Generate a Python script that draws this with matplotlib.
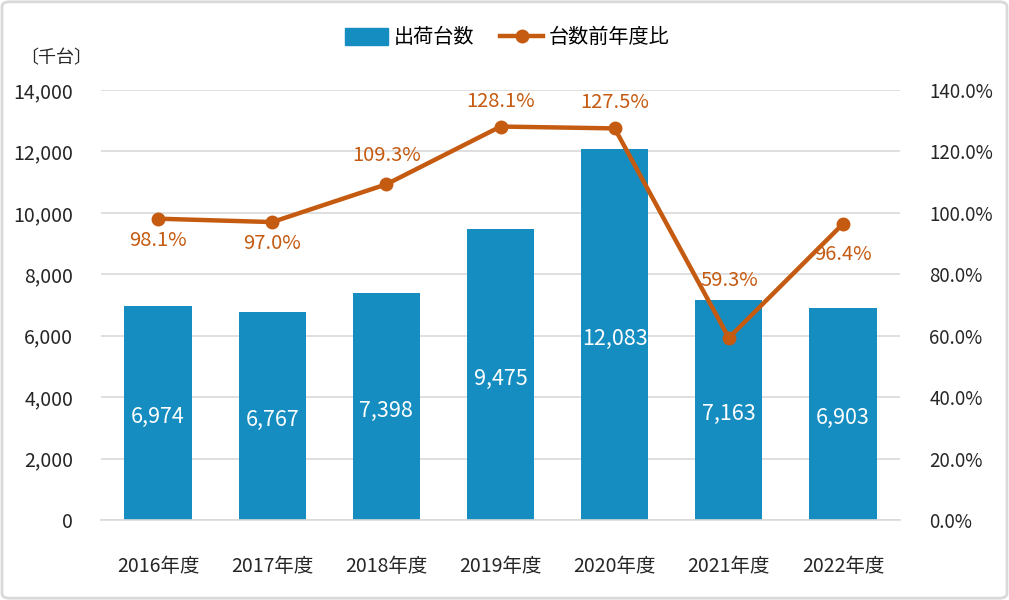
import matplotlib.pyplot as plt
from matplotlib.patches import FancyBboxPatch
from matplotlib.lines import Line2D
from matplotlib.patches import Patch
import numpy as np

plt.rcParams['font.family'] = ['Noto Sans CJK JP', 'DejaVu Sans']

# data
years = ['2016年度', '2017年度', '2018年度', '2019年度', '2020年度', '2021年度', '2022年度']
shipments = [6974, 6767, 7398, 9475, 12083, 7163, 6903]
yoy = [98.1, 97.0, 109.3, 128.1, 127.5, 59.3, 96.4]
# label offset (px) from each point, + = below
label_dy = [22, 21, -29, -25, -26, -57, 31]

bar_color = '#168dc0'
line_color = '#c55a11'
grid_color = '#d9d9d9'
text_color = '#262626'

fig = plt.figure(figsize=(10.09, 6.0), dpi=100)
ax = fig.add_axes([0.1001, 0.1333, 0.7919, 0.7167])
ax2 = ax.twinx()

x = np.arange(len(years))
ax.bar(x, shipments, width=0.59, color=bar_color, zorder=2)
for xi, v in zip(x, shipments):
    ax.annotate(f'{v:,}', (xi, v / 2), xytext=(0, -3), textcoords='offset points',
                ha='center', va='center', color='white', fontsize=15.5)

ax.set_ylim(0, 14000)
ax.set_xlim(-0.5, len(years) - 0.5)
ax.set_yticks(range(0, 14001, 2000))
ax.set_yticklabels([f'{t:,}' for t in range(0, 14001, 2000)])
ax.yaxis.grid(True, color=grid_color, linewidth=1.2, zorder=0)
ax.set_axisbelow(True)
ax.set_xticks(x)
ax.set_xticklabels(years)
for s in ax.spines.values():
    s.set_visible(False)
ax.spines['bottom'].set_visible(True)
ax.spines['bottom'].set_color(grid_color)
ax.spines['bottom'].set_linewidth(1.2)
ax.tick_params(axis='y', length=0, labelsize=14, colors=text_color, pad=20)
ax.tick_params(axis='x', length=0, labelsize=14, colors=text_color, pad=26)

ax2.plot(x, yoy, color=line_color, linewidth=3.2, marker='o', markersize=9, zorder=3)
for xi, v, dy in zip(x, yoy, label_dy):
    ax2.annotate(f'{v:.1f}%', (xi, v), xytext=(0, -dy * 0.72),
                 textcoords='offset points', ha='center', va='center',
                 color=line_color, fontsize=14.5)
ax2.set_ylim(0, 140)
ax2.set_yticks(range(0, 141, 20))
ax2.set_yticklabels([f'{t:.1f}%' for t in range(0, 141, 20)])
for s in ax2.spines.values():
    s.set_visible(False)
ax2.tick_params(axis='y', length=0, labelsize=13.5, colors=text_color, pad=21)

fig.text(0.02, 0.903, '〔千台〕', fontsize=13, color=text_color, va='center')

handles = [Patch(color=bar_color),
           Line2D([0], [0], color=line_color, linewidth=3.2, marker='o', markersize=9)]
fig.legend(handles, ['出荷台数', '台数前年度比'], loc='center', bbox_to_anchor=(0.503, 0.937),
           ncol=2, frameon=False, fontsize=14.5, handlelength=2.1, handleheight=0.9,
           columnspacing=1.3, handletextpad=0.3)

border = FancyBboxPatch((0.002, 0.003), 0.996, 0.994, boxstyle='round,pad=0,rounding_size=0.008',
                        transform=fig.transFigure, fill=False, edgecolor='#d9d9d9', linewidth=2)
fig.patches.append(border)

fig.savefig('out.png', dpi=100)
